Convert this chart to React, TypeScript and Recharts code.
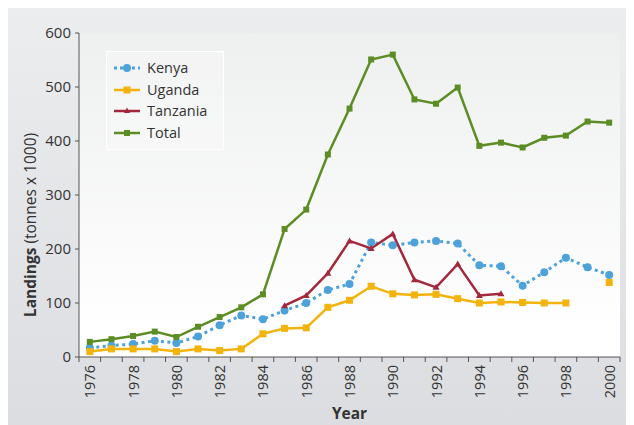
import React from 'react';
import { LineChart, Line, XAxis, YAxis, CartesianGrid, Legend, Label } from 'recharts';

const YEARS = ['1976','1977','1978','1979','1980','1981','1982','1983','1984','1985','1986','1987','1988','1989','1990','1991','1992','1993','1994','1995','1996','1997','1998','1999','2000'];
const KENYA = [17,21,24,30,26,38,59,77,70,86,100,124,135,212,207,212,215,210,170,168,132,157,184,166,152];
const UGANDA = [10,15,15,15,10,15,12,15,43,53,54,92,105,131,117,115,116,108,100,102,101,100,100,null,138];
const TANZANIA = [null,null,null,null,null,null,null,null,null,95,114,155,215,201,228,143,129,172,114,117,null,null,null,null,null];
const TOTAL = [28,33,39,47,37,56,74,92,116,237,273,375,460,551,560,477,469,499,391,397,388,406,410,436,434];
const Y_TICKS = [0,100,200,300,400,500,600];
const X_LABELS = ['1976','1978','1980','1982','1984','1986','1988','1990','1992','1994','1996','1998','2000'];

const data = YEARS.map((y, i) => ({ year: y, kenya: KENYA[i], uganda: UGANDA[i], tanzania: TANZANIA[i], total: TOTAL[i] }));

const BLUE = '#4ea2da';
const YELLOW = '#f2b30c';
const RED = '#a2293b';
const GREEN = '#5c8d24';
const TEXT = '#333333';
const AXIS = '#555555';

const W = 634, H = 425;
const M = { top: 33, right: 14, left: 0, bottom: 0 };
const YW = 79, XH = 68;
const PLOT_W = W - M.right - M.left - YW;
const HALF_BAND = PLOT_W / YEARS.length / 2;

const ok = (p: any) => p && p.cx != null && p.cy != null && p.value != null && !Number.isNaN(p.cy);

const circleDot = (color: string) => (p: any) => ok(p)
  ? <circle key={`c-${p.index}`} cx={p.cx} cy={p.cy} r={4} fill={color} stroke="none" />
  : <g key={`c-${p.index}`} />;
const squareDot = (color: string, s: number) => (p: any) => ok(p)
  ? <rect key={`s-${p.index}`} x={p.cx - s / 2} y={p.cy - s / 2} width={s} height={s} fill={color} stroke="none" />
  : <g key={`s-${p.index}`} />;
const triDot = (color: string) => (p: any) => ok(p)
  ? <path key={`t-${p.index}`} d={`M${p.cx},${p.cy - 3.5} L${p.cx + 3.5},${p.cy + 2.5} L${p.cx - 3.5},${p.cy + 2.5} Z`} fill={color} stroke="none" />
  : <g key={`t-${p.index}`} />;

const XTick = (p: any) => {
  const { x, y, payload, index } = p;
  const label = payload.value;
  const axisY = y - 8;
  return (
    <g>
      <line x1={x - HALF_BAND} x2={x - HALF_BAND} y1={axisY} y2={axisY + 5} stroke={AXIS} strokeWidth={1} />
      {index === YEARS.length - 1 && (
        <line x1={x + HALF_BAND} x2={x + HALF_BAND} y1={axisY} y2={axisY + 5} stroke={AXIS} strokeWidth={1} />
      )}
      {X_LABELS.includes(label) && (
        <text x={x} y={y} transform={`rotate(-90, ${x}, ${y})`} textAnchor="end" dominantBaseline="central" fill={TEXT} fontSize={14.5}>
          {label}
        </text>
      )}
    </g>
  );
};

const LEGEND_ITEMS = [
  { name: 'Kenya', color: BLUE, kind: 'circle' },
  { name: 'Uganda', color: YELLOW, kind: 'square' },
  { name: 'Tanzania', color: RED, kind: 'tri' },
  { name: 'Total', color: GREEN, kind: 'square-s' },
];

const LegendContent = () => (
  <div style={{ width: 116, height: 92, border: '1.5px solid #ffffff', background: 'rgba(255,255,255,0.25)', paddingTop: 5, boxSizing: 'content-box' }}>
    {LEGEND_ITEMS.map((it) => (
      <div key={it.name} style={{ display: 'flex', alignItems: 'center', height: 21.7 }}>
        <svg width={26} height={12} style={{ marginLeft: 7, marginRight: 7 }}>
          {it.kind === 'circle' ? (
            <>
              <line x1={0} x2={26} y1={6} y2={6} stroke={it.color} strokeWidth={3} strokeDasharray="3 3" />
              <circle cx={13} cy={6} r={4} fill={it.color} />
            </>
          ) : (
            <>
              <line x1={0} x2={26} y1={6} y2={6} stroke={it.color} strokeWidth={2.5} />
              {it.kind === 'square' && <rect x={9.5} y={2.5} width={7} height={7} fill={it.color} />}
              {it.kind === 'square-s' && <rect x={10} y={3} width={6} height={6} fill={it.color} />}
              {it.kind === 'tri' && <path d="M13,2.5 L16,8 L10,8 Z" fill={it.color} />}
            </>
          )}
        </svg>
        <span style={{ fontSize: 14.5, color: TEXT, lineHeight: '16px' }}>{it.name}</span>
      </div>
    ))}
  </div>
);

const YLabel = (p: any) => {
  const vb = p.viewBox || { x: 0, y: 33, width: 79, height: 324 };
  const cx = vb.x + 30;
  const cy = vb.y + vb.height / 2 + 30;
  return (
    <text x={cx} y={cy} transform={`rotate(-90, ${cx}, ${cy})`} textAnchor="middle" dominantBaseline="central" fill={TEXT} fontSize={15.5}>
      <tspan fontWeight="bold">Landings</tspan>
      <tspan> (tonnes x 1000)</tspan>
    </text>
  );
};

const XLabel = (p: any) => {
  const vb = p.viewBox || { x: 79, y: 357, width: 541, height: 68 };
  const cx = vb.x + vb.width / 2;
  const cy = vb.y + 56;
  return (
    <text x={cx} y={cy} textAnchor="middle" dominantBaseline="central" fill={TEXT} fontSize={15.5} fontWeight="bold">
      Year
    </text>
  );
};

export default function App() {
  return (
    <div style={{ position: 'relative', left: -8, top: -8, width: W, height: H, background: '#ffffff', fontFamily: '"Open Sans", "Noto Sans", sans-serif', overflow: 'hidden' }}>
      <div style={{ position: 'absolute', left: 6, top: 7, width: W - 6, height: H - 7, background: 'linear-gradient(to bottom, #ecedef 0%, #dcdde0 100%)' }} />
      <div style={{ position: 'absolute', left: 0, top: 0 }}>
        <LineChart width={W} height={H} data={data} margin={M}>
          <defs>
            <linearGradient id="plotGrad" x1="0" y1="0" x2="0" y2="1">
              <stop offset="0%" stopColor="#eeefef" />
              <stop offset="92%" stopColor="#ffffff" />
              <stop offset="100%" stopColor="#ffffff" />
            </linearGradient>
          </defs>
          <CartesianGrid horizontal={false} vertical={false} fill="url(#plotGrad)" stroke="none" />
          <XAxis dataKey="year" scale="band" interval={0} height={XH} tickLine={false} tickSize={5} tickMargin={3}
            axisLine={{ stroke: AXIS, strokeWidth: 1 }} tick={<XTick />}>
            <Label content={<XLabel />} />
          </XAxis>
          <YAxis domain={[0, 600]} ticks={Y_TICKS} width={YW} tickSize={4} tickMargin={4}
            axisLine={{ stroke: AXIS, strokeWidth: 1 }} tickLine={{ stroke: AXIS }} tick={{ fill: TEXT, fontSize: 15 }}>
            <Label content={<YLabel />} />
          </YAxis>
          <Legend layout="vertical" align="center" verticalAlign="middle" content={<LegendContent />}
            wrapperStyle={{ position: 'absolute', left: 106, top: 51, width: 'auto', height: 'auto' }} />
          <Line type="linear" dataKey="kenya" name="Kenya" stroke={BLUE} strokeWidth={3} strokeDasharray="3 3.5"
            dot={circleDot(BLUE)} activeDot={false} isAnimationActive={false} connectNulls={false} />
          <Line type="linear" dataKey="uganda" name="Uganda" stroke={YELLOW} strokeWidth={2.5}
            dot={squareDot(YELLOW, 7)} activeDot={false} isAnimationActive={false} connectNulls={false} />
          <Line type="linear" dataKey="tanzania" name="Tanzania" stroke={RED} strokeWidth={2.5}
            dot={triDot(RED)} activeDot={false} isAnimationActive={false} connectNulls={false} />
          <Line type="linear" dataKey="total" name="Total" stroke={GREEN} strokeWidth={2.5}
            dot={squareDot(GREEN, 6)} activeDot={false} isAnimationActive={false} connectNulls={false} />
        </LineChart>
      </div>
    </div>
  );
}
